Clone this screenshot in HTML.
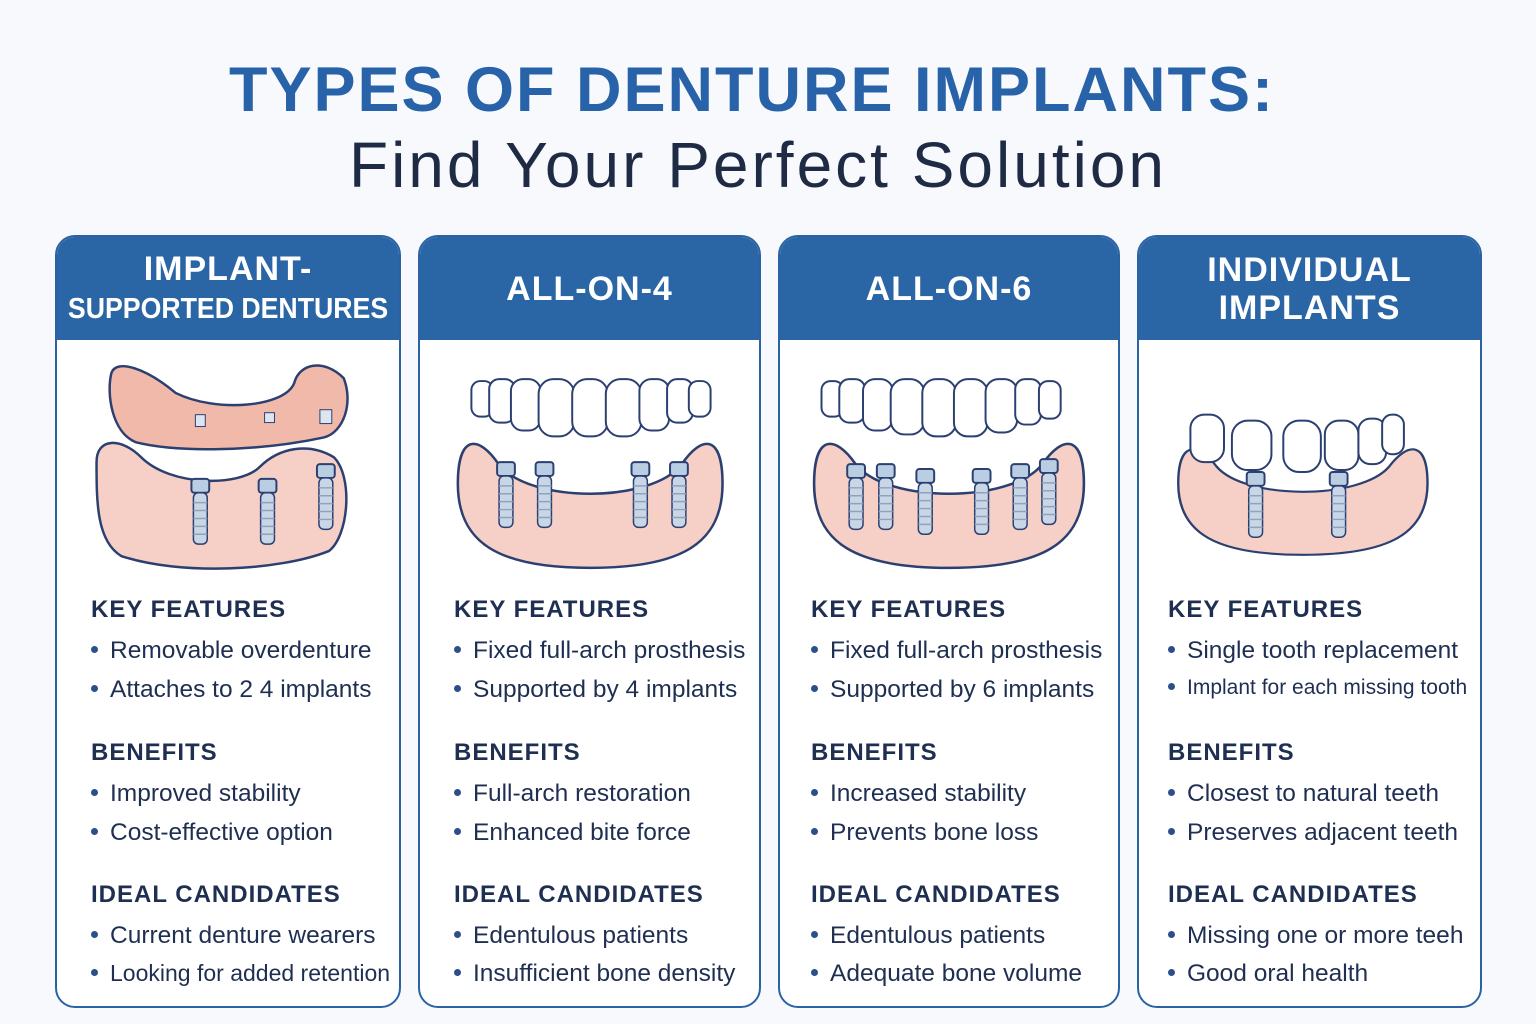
<!DOCTYPE html>
<html><head><meta charset="utf-8"><style>
body{margin:0;width:1536px;height:1024px;background:#f7f9fc;font-family:"Liberation Sans","DejaVu Sans",sans-serif;position:relative;overflow:hidden}
.t1{position:absolute;top:54px;left:-16px;width:1536px;text-align:center;font-size:63px;font-weight:bold;color:#2862a8;letter-spacing:2px}
.t2{position:absolute;top:128px;left:-10px;width:1536px;text-align:center;font-size:64px;color:#1f2b45;letter-spacing:3px}
.card{position:absolute;top:235px;height:773px;border:2px solid #2a62a4;border-radius:20px;background:#fff;overflow:hidden;box-sizing:border-box}
.hd{height:103px;background:#2a65a5;color:#fff;font-weight:bold;display:flex;align-items:center;justify-content:center;text-align:center;font-size:34px;line-height:38px;letter-spacing:1px;white-space:nowrap}
.ill{position:absolute;top:115px;left:0;width:100%;height:240px}
.h{position:absolute;font-size:24px;font-weight:bold;color:#1f2f52;letter-spacing:1px}
.b{position:absolute;font-size:24.5px;color:#1f2f52;white-space:nowrap}
.b:before{content:"";display:inline-block;width:7px;height:7px;border-radius:50%;background:#2a4f8a;margin-right:12px;vertical-align:middle;position:relative;top:-2px}
</style></head><body>
<div class="t1">TYPES OF DENTURE IMPLANTS:</div>
<div class="t2">Find Your Perfect Solution</div>

<svg width="0" height="0" style="position:absolute"><defs>
<g id="imp"><rect x="-9" y="-18" width="18" height="14" rx="3" fill="#b9cde3" stroke="#2b3f70" stroke-width="2"/><rect x="-7" y="-4" width="14" height="52" rx="5" fill="#c9d6e6" stroke="#2b3f70" stroke-width="1.5"/><path d="M-7 6h14M-7 14h14M-7 22h14M-7 30h14M-7 38h14" stroke="#8ea3bf" stroke-width="1.5"/></g>
<path id="gum" d="M10 90 C10 40 30 40 50 70 C80 110 200 110 230 70 C250 40 270 40 270 90 C270 150 230 175 140 175 C50 175 10 150 10 90Z" fill="#f6d0c6" stroke="#2b3f70" stroke-width="2.5"/>
</defs></svg>

<div class="card" style="left:55px;width:346px"><div class="hd"><div>IMPLANT-<br><span style="font-size:29px;letter-spacing:0;display:inline-block;transform:scaleX(0.92)">SUPPORTED DENTURES</span></div></div>
<svg class="ill" viewBox="0 0 346 240"><path d="M55 20 C60 5 90 15 120 40 C160 60 230 55 240 30 C245 10 270 5 290 25 C300 50 290 80 270 85 C200 100 120 100 80 90 C55 80 50 40 55 20Z" fill="#f0b9aa" stroke="#2b3f70" stroke-width="2.5"/>
<rect x="140" y="62" width="10" height="12" fill="#dde6f0" stroke="#2b3f70"/><rect x="210" y="60" width="10" height="10" fill="#dde6f0" stroke="#2b3f70"/><rect x="266" y="57" width="12" height="14" fill="#dde6f0" stroke="#2b3f70"/>
<g transform="translate(25,80)"><path d="M15 30 C15 5 40 5 60 25 C90 55 160 55 180 35 C200 15 230 10 255 25 C275 45 270 105 250 120 C200 140 100 145 40 125 C15 110 15 70 15 30Z" fill="#f6d0c6" stroke="#2b3f70" stroke-width="2.5"/></g>
<use href="#imp" x="145" y="145"/><use href="#imp" x="213" y="145"/><use href="#imp" x="272" y="130"/></svg>
<div class="h" style="left:34px;top:359px">KEY FEATURES</div>
<div class="b" style="left:34px;top:400px">Removable overdenture</div>
<div class="b" style="left:34px;top:439px">Attaches to 2 4 implants</div>
<div class="h" style="left:34px;top:502px">BENEFITS</div>
<div class="b" style="left:34px;top:543px">Improved stability</div>
<div class="b" style="left:34px;top:582px">Cost-effective option</div>
<div class="h" style="left:34px;top:644px">IDEAL CANDIDATES</div>
<div class="b" style="left:34px;top:685px">Current denture wearers</div>
<div class="b" style="left:34px;top:723px;font-size:23px">Looking for added retention</div>
</div>

<div class="card" style="left:418px;width:343px"><div class="hd">ALL-ON-4</div>
<svg class="ill" viewBox="0 0 343 240"><g transform="translate(28,42) scale(1.03,1)"><use href="#gum"/></g>
<g fill="#fff" stroke="#2b3f70" stroke-width="2"><rect x="52" y="28" width="22" height="36" rx="9"/><rect x="70" y="26" width="26" height="44" rx="10"/><rect x="92" y="26" width="30" height="52" rx="12"/><rect x="120" y="26" width="36" height="58" rx="15"/><rect x="154" y="26" width="36" height="58" rx="15"/><rect x="188" y="26" width="36" height="58" rx="15"/><rect x="222" y="26" width="30" height="52" rx="12"/><rect x="250" y="26" width="26" height="44" rx="10"/><rect x="272" y="28" width="22" height="36" rx="9"/></g>
<use href="#imp" x="87" y="128"/><use href="#imp" x="126" y="128"/><use href="#imp" x="223" y="128"/><use href="#imp" x="262" y="128"/></svg>
<div class="h" style="left:34px;top:359px">KEY FEATURES</div>
<div class="b" style="left:34px;top:400px">Fixed full-arch prosthesis</div>
<div class="b" style="left:34px;top:439px">Supported by 4 implants</div>
<div class="h" style="left:34px;top:502px">BENEFITS</div>
<div class="b" style="left:34px;top:543px">Full-arch restoration</div>
<div class="b" style="left:34px;top:582px">Enhanced bite force</div>
<div class="h" style="left:34px;top:644px">IDEAL CANDIDATES</div>
<div class="b" style="left:34px;top:685px">Edentulous patients</div>
<div class="b" style="left:34px;top:723px">Insufficient bone density</div>
</div>

<div class="card" style="left:778px;width:342px"><div class="hd">ALL-ON-6</div>
<svg class="ill" viewBox="0 0 342 240"><g transform="translate(24,42) scale(1.05,1)"><use href="#gum"/></g>
<g fill="#fff" stroke="#2b3f70" stroke-width="2"><rect x="42" y="28" width="22" height="36" rx="9"/><rect x="60" y="26" width="26" height="44" rx="10"/><rect x="84" y="26" width="30" height="52" rx="12"/><rect x="112" y="26" width="34" height="56" rx="14"/><rect x="144" y="26" width="34" height="58" rx="14"/><rect x="176" y="26" width="34" height="58" rx="14"/><rect x="208" y="26" width="32" height="54" rx="13"/><rect x="238" y="26" width="26" height="46" rx="10"/><rect x="262" y="28" width="22" height="38" rx="9"/></g>
<use href="#imp" x="77" y="130"/><use href="#imp" x="107" y="130"/><use href="#imp" x="147" y="135"/><use href="#imp" x="204" y="135"/><use href="#imp" x="243" y="130"/><use href="#imp" x="272" y="125"/></svg>
<div class="h" style="left:31px;top:359px">KEY FEATURES</div>
<div class="b" style="left:31px;top:400px">Fixed full-arch prosthesis</div>
<div class="b" style="left:31px;top:439px">Supported by 6 implants</div>
<div class="h" style="left:31px;top:502px">BENEFITS</div>
<div class="b" style="left:31px;top:543px">Increased stability</div>
<div class="b" style="left:31px;top:582px">Prevents bone loss</div>
<div class="h" style="left:31px;top:644px">IDEAL CANDIDATES</div>
<div class="b" style="left:31px;top:685px">Edentulous patients</div>
<div class="b" style="left:31px;top:723px">Adequate bone volume</div>
</div>

<div class="card" style="left:1137px;width:345px"><div class="hd">INDIVIDUAL<br>IMPLANTS</div>
<svg class="ill" viewBox="0 0 345 240"><g transform="translate(30,55) scale(0.97,0.85)"><use href="#gum"/></g>
<g fill="#fff" stroke="#2b3f70" stroke-width="2"><rect x="52" y="62" width="34" height="48" rx="14"/><rect x="94" y="68" width="40" height="50" rx="16"/><rect x="146" y="68" width="38" height="52" rx="16"/><rect x="188" y="68" width="34" height="50" rx="14"/><rect x="222" y="66" width="28" height="46" rx="12"/><rect x="246" y="62" width="22" height="40" rx="10"/></g>
<use href="#imp" x="118" y="138"/><use href="#imp" x="202" y="138"/></svg>
<div class="h" style="left:29px;top:359px">KEY FEATURES</div>
<div class="b" style="left:29px;top:400px">Single tooth replacement</div>
<div class="b" style="left:29px;top:439px;font-size:21px">Implant for each missing tooth</div>
<div class="h" style="left:29px;top:502px">BENEFITS</div>
<div class="b" style="left:29px;top:543px">Closest to natural teeth</div>
<div class="b" style="left:29px;top:582px">Preserves adjacent teeth</div>
<div class="h" style="left:29px;top:644px">IDEAL CANDIDATES</div>
<div class="b" style="left:29px;top:685px">Missing one or more teeh</div>
<div class="b" style="left:29px;top:723px">Good oral health</div>
</div>
</body></html>
